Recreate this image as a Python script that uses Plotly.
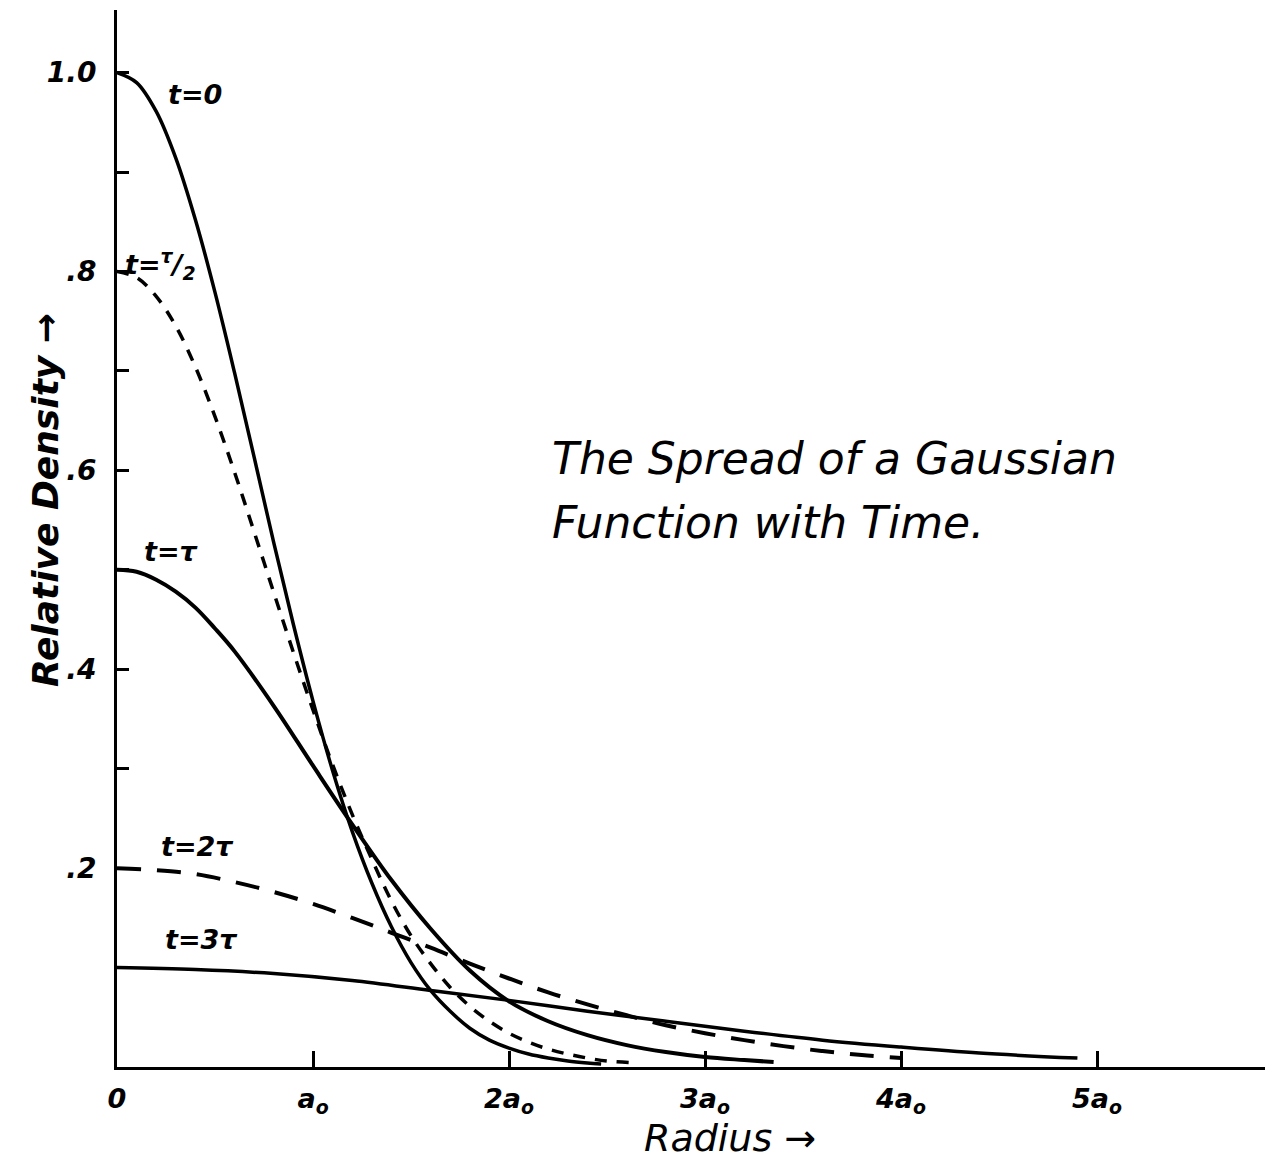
import plotly.graph_objects as go

# ---- data (radius in units of a0, relative density) ----
r_t0 = [0.0, 0.1, 0.2, 0.3, 0.4, 0.5, 0.6, 0.7, 0.8, 0.9, 1.0, 1.1, 1.2, 1.3, 1.4,
        1.5, 1.6, 1.7, 1.8, 1.9, 2.0, 2.1, 2.2, 2.3, 2.4, 2.47]
v_t0 = [1.000, 0.990, 0.961, 0.914, 0.852, 0.779, 0.698, 0.613, 0.527, 0.445, 0.368,
        0.298, 0.237, 0.185, 0.141, 0.105, 0.077, 0.056, 0.039, 0.027, 0.019, 0.013,
        0.009, 0.006, 0.004, 0.003]

r_thalf = [0.0, 0.1, 0.2, 0.3, 0.4, 0.5, 0.6, 0.7, 0.8, 0.9, 1.0, 1.1, 1.2, 1.3, 1.4,
           1.5, 1.6, 1.7, 1.8, 1.9, 2.0, 2.1, 2.2, 2.3, 2.4, 2.5, 2.66]
v_thalf = [0.800, 0.794, 0.775, 0.745, 0.704, 0.654, 0.598, 0.538, 0.477, 0.417, 0.359,
           0.304, 0.254, 0.209, 0.167, 0.132, 0.104, 0.080, 0.061, 0.046, 0.034, 0.025,
           0.018, 0.013, 0.009, 0.006, 0.004]

r_t1 = [0.0, 0.1, 0.2, 0.3, 0.4, 0.5, 0.6, 0.8, 1.0, 1.2, 1.4, 1.6, 1.8, 2.0, 2.2,
        2.4, 2.6, 2.8, 3.0, 3.2, 3.35]
v_t1 = [0.500, 0.498, 0.490, 0.478, 0.462, 0.441, 0.418, 0.363, 0.303, 0.244, 0.188,
        0.139, 0.097, 0.066, 0.046, 0.032, 0.022, 0.015, 0.010, 0.007, 0.005]

r_t2 = [0.0, 0.2, 0.4, 0.6, 0.8, 1.0, 1.2, 1.4, 1.6, 1.8, 2.0, 2.2, 2.4, 2.6, 2.8,
        3.0, 3.2, 3.4, 3.6, 3.8, 4.0]
v_t2 = [0.200, 0.198, 0.194, 0.186, 0.176, 0.164, 0.150, 0.135, 0.120, 0.104, 0.089,
        0.075, 0.063, 0.052, 0.042, 0.034, 0.027, 0.021, 0.016, 0.012, 0.009]

r_t3 = [0.0, 0.4, 0.8, 1.2, 1.6, 2.0, 2.4, 2.8, 3.2, 3.6, 4.0, 4.4, 4.9]
v_t3 = [0.100, 0.098, 0.094, 0.087, 0.077, 0.067, 0.056, 0.046, 0.036, 0.027, 0.020,
        0.014, 0.009]

x_tickvals = [0, 1, 2, 3, 4, 5]
x_ticktext = ["0", "a<sub>o</sub>", "2a<sub>o</sub>", "3a<sub>o</sub>", "4a<sub>o</sub>", "5a<sub>o</sub>"]
y_tickvals = [0.1, 0.2, 0.3, 0.4, 0.5, 0.6, 0.7, 0.8, 0.9, 1.0]
y_ticktext = ["", ".2", "", ".4", "", ".6", "", ".8", "", "1.0"]

curve_labels = ["t=0", "t=<sup>τ</sup>/<sub>2</sub>", "t=τ", "t=2τ", "t=3τ"]
label_r = [0.40, 0.22, 0.28, 0.41, 0.43]
label_v = [0.978, 0.807, 0.518, 0.222, 0.128]

series = [
    (r_t0, v_t0, "solid", 3.5),
    (r_thalf, v_thalf, "12px,10px", 3.5),
    (r_t1, v_t1, "solid", 4),
    (r_t2, v_t2, "24px,16px", 4),
    (r_t3, v_t3, "solid", 3.5),
]

FONT = "DejaVu Sans"
L, R, T, B = 117, 18, 10, 97
PW, PH = 1283 - L - R, 1164 - T - B


def px_x(x):
    return (x - L) / PW


def px_y(y):
    return (1164 - B - y) / PH


fig = go.Figure()
for r, v, dash, w in series:
    fig.add_trace(go.Scatter(
        x=r, y=v, mode="lines",
        line=dict(color="black", width=w, dash=dash, shape="spline", smoothing=1.0),
        hoverinfo="skip", showlegend=False))

for txt, rx, vy in zip(curve_labels, label_r, label_v):
    fig.add_annotation(x=rx, y=vy, xref="x", yref="y", text=txt, showarrow=False,
                       font=dict(family=FONT, size=27, color="black", style="italic", weight="bold"))

fig.add_annotation(x=px_x(550), y=px_y(458), xref="paper", yref="paper",
                   text="The Spread of a Gaussian", showarrow=False,
                   xanchor="left", yanchor="middle",
                   font=dict(family=FONT, size=44, color="black", style="italic"))
fig.add_annotation(x=px_x(550), y=px_y(522), xref="paper", yref="paper",
                   text="Function with Time.", showarrow=False,
                   xanchor="left", yanchor="middle",
                   font=dict(family=FONT, size=44, color="black", style="italic"))

# axis titles
fig.add_annotation(x=px_x(45), y=px_y(500), xref="paper", yref="paper",
                   text="Relative Density →", showarrow=False, textangle=-90,
                   xanchor="center", yanchor="middle",
                   font=dict(family=FONT, size=36, color="black", style="italic", weight="bold"))
fig.add_annotation(x=px_x(730), y=px_y(1138), xref="paper", yref="paper",
                   text="Radius →", showarrow=False,
                   xanchor="center", yanchor="middle",
                   font=dict(family=FONT, size=38, color="black", style="italic"))

fig.update_layout(
    width=1283, height=1164,
    margin=dict(l=L, r=R, t=T, b=B),
    plot_bgcolor="white", paper_bgcolor="white",
    showlegend=False,
)
fig.update_xaxes(
    range=[0, 5.857], showline=True, linecolor="black", linewidth=3,
    showgrid=False, zeroline=False,
    ticks="inside", ticklen=16, tickwidth=3, tickcolor="black",
    tickvals=x_tickvals, ticktext=x_ticktext, ticklabelstandoff=6,
    tickfont=dict(family=FONT, size=27, color="black", style="italic", weight="bold"),
)
fig.update_yaxes(
    range=[0, 1.063], showline=True, linecolor="black", linewidth=3,
    showgrid=False, zeroline=False,
    ticks="inside", ticklen=12, tickwidth=3, tickcolor="black",
    tickvals=y_tickvals, ticktext=y_ticktext, ticklabelstandoff=12,
    tickfont=dict(family=FONT, size=28, color="black", style="italic", weight="bold"),
)

fig.write_html("out.html", config={"displayModeBar": False},
               post_script="document.body.style.margin='0';")
